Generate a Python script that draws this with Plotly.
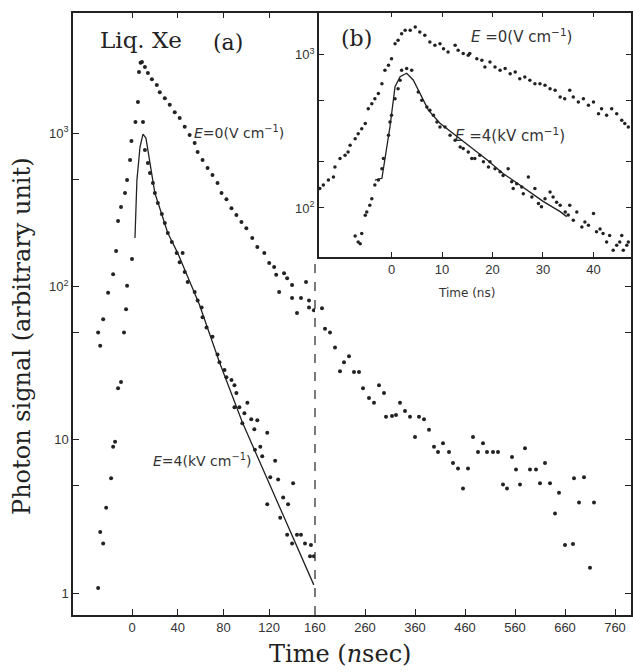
import plotly.graph_objects as go

# ---------------- data ----------------
# Main panel (a): E = 0 V/cm, rising edge and decay up to 160 ns
e0_early_t = [-29.6, -27.8, -25.2, -20.9, -16.5, -13.9, -12.2, -9.6, -6.1, -4.3, -1.7, -0.5, 3.0, 5.2, 6.1, 7.5,
              8.7, 11.3, 13.9, 17.4, 21.7, 24.3, 28.7, 33.0, 37.4, 41.7,
              46.1, 50.4, 54.8, 57.4, 61.7, 66.1, 70.4, 74.8, 78.3, 82.6,
              87.0, 91.3, 95.7, 100.0, 105.2, 109.6, 115.7, 120.0, 124.3, 126.1,
              133.0, 128.7, 135.7, 140.0, 140.0, 147.8, 152.2, 144.3, 154.8, 154.8, 159.1]
e0_early_v = [50, 41, 61, 91, 120, 170, 267, 330, 407, 494, 668, 890, 1181, 1595, 2505, 2880,
              2910, 2700, 2470, 2250, 2060, 1850, 1690, 1530, 1370, 1255,
              1100, 973, 862, 753, 668, 592, 533, 473, 407, 370,
              324, 292, 263, 240, 207, 181, 165, 142, 134, 119,
              122, 92, 113, 102, 84, 84, 107, 67, 81, 73, 70]

# Main panel (a): E = 0 V/cm, late tail (160 - 760 ns)
e0_late_t = [174, 180, 190, 200, 210, 218, 228, 238, 248, 256,
             268, 278, 288, 298, 302, 314, 322, 330, 340, 350,
             360, 368, 378, 388, 398, 406, 416, 428, 436, 446,
             456, 466, 476, 486, 496, 504, 516, 526, 536, 544,
             554, 562, 570, 580, 590, 602, 610, 620, 630, 640,
             648, 660, 676, 678, 688, 698, 710, 718]
e0_late_v = [72, 53, 50, 40, 28, 32, 35, 27.7, 27.7, 21.7,
             18.7, 17.4, 22.7, 20.2, 14.1, 14.3, 14.5, 17.4, 15.4, 14.1,
             10.4, 14.1, 13.6, 11.6, 9.0, 8.3, 9.5, 8.3, 7.05, 6.5,
             4.8, 6.5, 10.4, 8.3, 9.5, 8.3, 8.3, 8.3, 5.1, 4.8,
             7.7, 6.4, 5.1, 8.8, 6.4, 6.4, 5.2, 7.05, 5.2, 3.3,
             4.5, 2.06, 2.09, 5.6, 3.9, 5.7, 1.46, 3.9]

# Main panel (a): E = 4 kV/cm data points
e4_t = [-29.6, -27.8, -25.2, -22.6, -18.3, -16.5, -14.8, -12.2, -9.6, -7.0, -5.2, -4.3, 0.0,
        9.6, 11.3, 13.9, 15.7, 18.3, 20.0, 22.6, 26.1, 28.7, 31.3,
        34.8, 39.1, 44.3, 41.7, 46.1, 48.7, 54.8, 57.4, 60.9, 61.7,
        65.2, 70.4, 74.8, 76.5, 80.9, 82.6, 87.0, 89.6, 91.3, 89.6,
        93.9, 100.9, 96.5, 98.3, 104.3, 109.6, 107.0, 118.3, 112.2, 113.9,
        125.2, 120.9, 127.8, 140.9, 118.3, 132.2, 136.5, 129.6, 135.7, 144.3,
        147.8, 140.0, 151.3, 155.7, 159.1, 156.5, 107.5]
e4_v = [1.08, 2.5, 2.1, 3.6, 5.6, 9.0, 9.7, 21.7, 23.8, 50, 71, 101, 151,
        1181, 776, 638, 549, 472, 407, 350, 297, 259, 223,
        195, 165, 165, 144, 124, 107, 92, 81, 73, 63,
        54, 47, 36, 32, 28.5, 25.6, 24.5, 22.7, 20.2, 16.3,
        16.3, 17.4, 12.8, 14.9, 13.6, 13.4, 11.7, 11.1, 9.0, 7.8,
        7.3, 5.7, 5.5, 5.2, 3.8, 4.2, 3.8, 3.1, 2.4, 2.4,
        2.4, 2.1, 2.1, 1.74, 1.74, 2.06, 8.6]

# Main panel (a): E = 4 kV/cm fitted curve
e4_fit_t = [2.6, 4.3, 7.0, 9.6, 12.2, 13.9, 20, 31.3, 40, 59, 76.5, 96.5, 120, 140, 159]
e4_fit_v = [207, 494, 812, 986, 929, 776, 407, 223, 165, 76, 32, 13, 5.2, 2.37, 1.13]

# Inset (b): E = 0 V/cm
b_e0_t = [-14.2, -13.5, -12.5, -11.5, -11.2, -10.2, -9.2, -8.6, -8.2, -7.2,
          -6.6, -5.9, -5.2, -4.6, -3.9, -3.3, -2.6, -1.9, -1.3, -0.6,
          0.0, 0.7, 1.3, 2.0, 2.7, 3.7, 4.7, 5.6, 6.6, 7.6,
          8.6, 9.6, 10.3, 11.2, 12.6, 13.2, 14.2, 15.2, 15.5, 16.9,
          17.9, 18.5, 19.5, 20.5, 21.5, 22.5, 23.5, 24.5, 25.4, 26.4,
          27.4, 28.4, 29.4, 30.4, 31.4, 32.4, 33.4, 34.3, 35.3, 36.0,
          37.0, 38.0, 39.0, 40.0, 41.0, 41.6, 42.6, 43.6, 44.6, 45.6,
          46.2, 46.9]
b_e0_v = [134, 141, 152, 159, 185, 210, 221, 232, 256, 283,
          305, 329, 355, 444, 479, 516, 557, 647, 791, 853,
          942, 1180, 1241, 1371, 1443, 1443, 1517, 1407, 1339, 1211,
          1151, 1180, 1094, 1042, 1151, 1068, 1016, 991, 1016, 942,
          919, 831, 896, 831, 791, 811, 752, 771, 697, 716,
          681, 647, 647, 631, 600, 586, 530, 516, 586, 530,
          491, 516, 468, 491, 412, 444, 403, 444, 412, 373,
          355, 337]

# Inset (b): E = 4 kV/cm
b_e4_t = [-7.2, -6.6, -6.2, -5.9, -5.2, -4.9, -4.3, -3.9, -3.3, -2.6,
          -1.9, -1.6, -0.6, -0.3, 0.0, 0.7, 1.3, 1.7, 2.0, 3.0,
          4.0, 5.3, 6.0, 7.0, 7.6, 8.3, 9.0, 9.6, 10.6, 11.6,
          12.6, 13.6, 14.2, 15.2, 15.9, 16.5, 17.5, 18.2, 19.2, 19.5,
          20.5, 21.5, 22.1, 23.1, 23.8, 24.1, 24.8, 25.8, 26.1, 27.1,
          27.8, 28.4, 29.1, 29.7, 30.4, 31.4, 32.0, 32.7, 33.4, 34.4,
          35.0, 35.3, 36.0, 36.7, 37.7, 38.3, 39.0, 40.0, 40.6, 41.3,
          41.9, 42.6, 43.2, 43.9, 44.6, 45.2, 45.6, 45.9, 46.6, 46.9]
b_e4_v = [65.6, 60, 58.5, 68, 89.6, 94, 104, 115, 141, 152,
          180, 210, 298, 364, 403, 516, 600, 681, 791, 811,
          791, 571, 505, 456, 434, 403, 364, 337, 337, 298,
          276, 250, 244, 232, 210, 210, 221, 200, 185, 200,
          180, 172, 163, 180, 148, 134, 144, 137, 124, 159,
          118, 134, 107, 102, 115, 127, 118, 109, 104, 94,
          90, 104, 83, 94, 75, 81, 77, 92, 70, 73,
          68, 60, 66, 53, 57, 60, 66, 53, 57, 60]

# Inset (b): E = 4 kV/cm fitted curve
b_fit_t = [-3.3, -1.9, -0.3, 0.7, 1.7, 3.0, 4.3, 5.6, 7.3, 9.6, 12.2, 15.5, 18.9, 22.1, 26.8, 30.1, 33.4, 34.7]
b_fit_v = [152, 156, 339, 618, 719, 757, 684, 560, 435, 357, 307, 251, 206, 168, 131, 110, 94.6, 87.8]

# tick definitions
main_xticks_left = [0, 40, 80, 120, 160]
main_xticks_right = [260, 360, 460, 560, 660, 760]
main_yticks = [1, 10, 100, 1000]
main_yticktext = ["1", "10", "10<sup>2</sup>", "10<sup>3</sup>"]
main_yminor = [5, 50, 500]
inset_xticks = [0, 10, 20, 30, 40]
inset_yticks = [100, 1000]
inset_yticktext = ["10<sup>2</sup>", "10<sup>3</sup>"]
inset_yminor = [200, 500]

# ---------------- layout helpers ----------------
W, H = 633, 672


def px(x):
    return x / W


def py(y):
    return 1 - y / H


INK = "#222222"
TICKFONT = dict(family="Liberation Sans, Arial, sans-serif", size=13, color="#333333")
SERIF = "DejaVu Serif, Liberation Serif, serif"
SANS = "DejaVu Sans, Liberation Sans, sans-serif"

dot = dict(color=INK, size=4, symbol="circle")
dot_small = dict(color=INK, size=3.5, symbol="circle")

fig = go.Figure()

# main panel traces
fig.add_trace(go.Scatter(x=e0_early_t, y=e0_early_v, mode="markers", marker=dot,
                         xaxis="x", yaxis="y", showlegend=False))
fig.add_trace(go.Scatter(x=e0_late_t, y=e0_late_v, mode="markers", marker=dot,
                         xaxis="x2", yaxis="y2", showlegend=False))
fig.add_trace(go.Scatter(x=e4_t, y=e4_v, mode="markers", marker=dot,
                         xaxis="x", yaxis="y", showlegend=False))
fig.add_trace(go.Scatter(x=e4_fit_t, y=e4_fit_v, mode="lines", line=dict(color=INK, width=1.3),
                         xaxis="x", yaxis="y", showlegend=False))

# inset traces
fig.add_trace(go.Scatter(x=b_e0_t, y=b_e0_v, mode="markers", marker=dot_small,
                         xaxis="x3", yaxis="y3", showlegend=False))
fig.add_trace(go.Scatter(x=b_e4_t, y=b_e4_v, mode="markers", marker=dot_small,
                         xaxis="x3", yaxis="y3", showlegend=False))
fig.add_trace(go.Scatter(x=b_fit_t, y=b_fit_v, mode="lines", line=dict(color=INK, width=1.3),
                         xaxis="x3", yaxis="y3", showlegend=False))

common_axis = dict(showgrid=False, zeroline=False, showline=True, linecolor=INK, linewidth=1.5,
                   ticks="inside", ticklen=6, tickwidth=1.2, tickcolor=INK, tickfont=TICKFONT,
                   automargin=False)
minor_style = dict(ticks="inside", ticklen=6, tickwidth=1.2, tickcolor=INK, showgrid=False)

main_ydom = [py(615), py(12.5)]
main_yrange = [-0.1435, 3.787]

fig.update_layout(
    width=W, height=H,
    margin=dict(l=0, r=0, t=0, b=0),
    paper_bgcolor="white", plot_bgcolor="white",
    xaxis=dict(common_axis, domain=[px(73), px(315)], range=[-51.6, 160.05], anchor="y",
               tickmode="array", tickvals=main_xticks_left, mirror="ticks"),
    xaxis2=dict(common_axis, domain=[px(315), px(631)], range=[160, 792], anchor="y2",
                tickmode="array", tickvals=main_xticks_right, mirror=True),
    yaxis=dict(common_axis, domain=main_ydom, type="log", range=main_yrange, anchor="x",
               tickmode="array", tickvals=main_yticks, ticktext=main_yticktext,
               minor=dict(minor_style, tickvals=main_yminor)),
    yaxis2=dict(common_axis, domain=main_ydom, type="log", range=main_yrange, anchor="x2",
                side="right", tickmode="array", tickvals=[1, 10, 100],
                showticklabels=False, minor=dict(minor_style, tickvals=[5, 50])),
    xaxis3=dict(common_axis, domain=[px(319), px(631)], range=[-14.36, 47.43], anchor="y3",
                tickmode="array", tickvals=inset_xticks, mirror="ticks", ticklen=5),
    yaxis3=dict(common_axis, domain=[py(257), py(12.5)], type="log", range=[1.680, 3.275],
                anchor="x3", tickmode="array", tickvals=inset_yticks, ticktext=inset_yticktext,
                mirror="ticks", ticklen=5, minor=dict(minor_style, tickvals=inset_yminor, ticklen=5)),
)

# dashed break line at 160 ns
fig.add_shape(type="line", xref="paper", yref="paper", x0=px(315), x1=px(315),
              y0=py(615), y1=py(257), line=dict(color="#333333", width=1.3, dash="dash"))


def label(text, x, y, size, family, angle=0, color=INK):
    fig.add_annotation(text=text, x=px(x), y=py(y), xref="paper", yref="paper",
                       showarrow=False, xanchor="center", yanchor="middle", textangle=angle,
                       font=dict(family=family, size=size, color=color))


label("Liq. Xe", 141, 40, 23, SERIF)
label("(a)", 228, 42, 22, SERIF)
label("(b)", 356, 38, 22, SERIF)
label("<i>E</i>=0(V cm<sup>−1</sup>)", 239, 132, 14, SANS, color="#333333")
label("<i>E</i>=4(kV cm<sup>−1</sup>)", 202, 460, 14, SANS, color="#333333")
label("<i>E</i> =0(V cm<sup>−1</sup>)", 521, 36, 15, SANS, color="#333333")
label("<i>E</i> =4(kV cm<sup>−1</sup>)", 510, 135, 15, SANS, color="#333333")
label("Time (ns)", 466, 293, 12, SANS, color="#333333")
label("Photon signal (arbitrary unit)", 22, 336, 24, SERIF, angle=-90)
label("Time (<i>n</i>sec)", 340, 654, 24, SERIF)

# remove the default 8px page margin so the figure fills the window exactly
fig.write_html("out.html", config={"displayModeBar": False},
               post_script="document.body.style.margin='0';document.body.style.overflow='hidden';")
